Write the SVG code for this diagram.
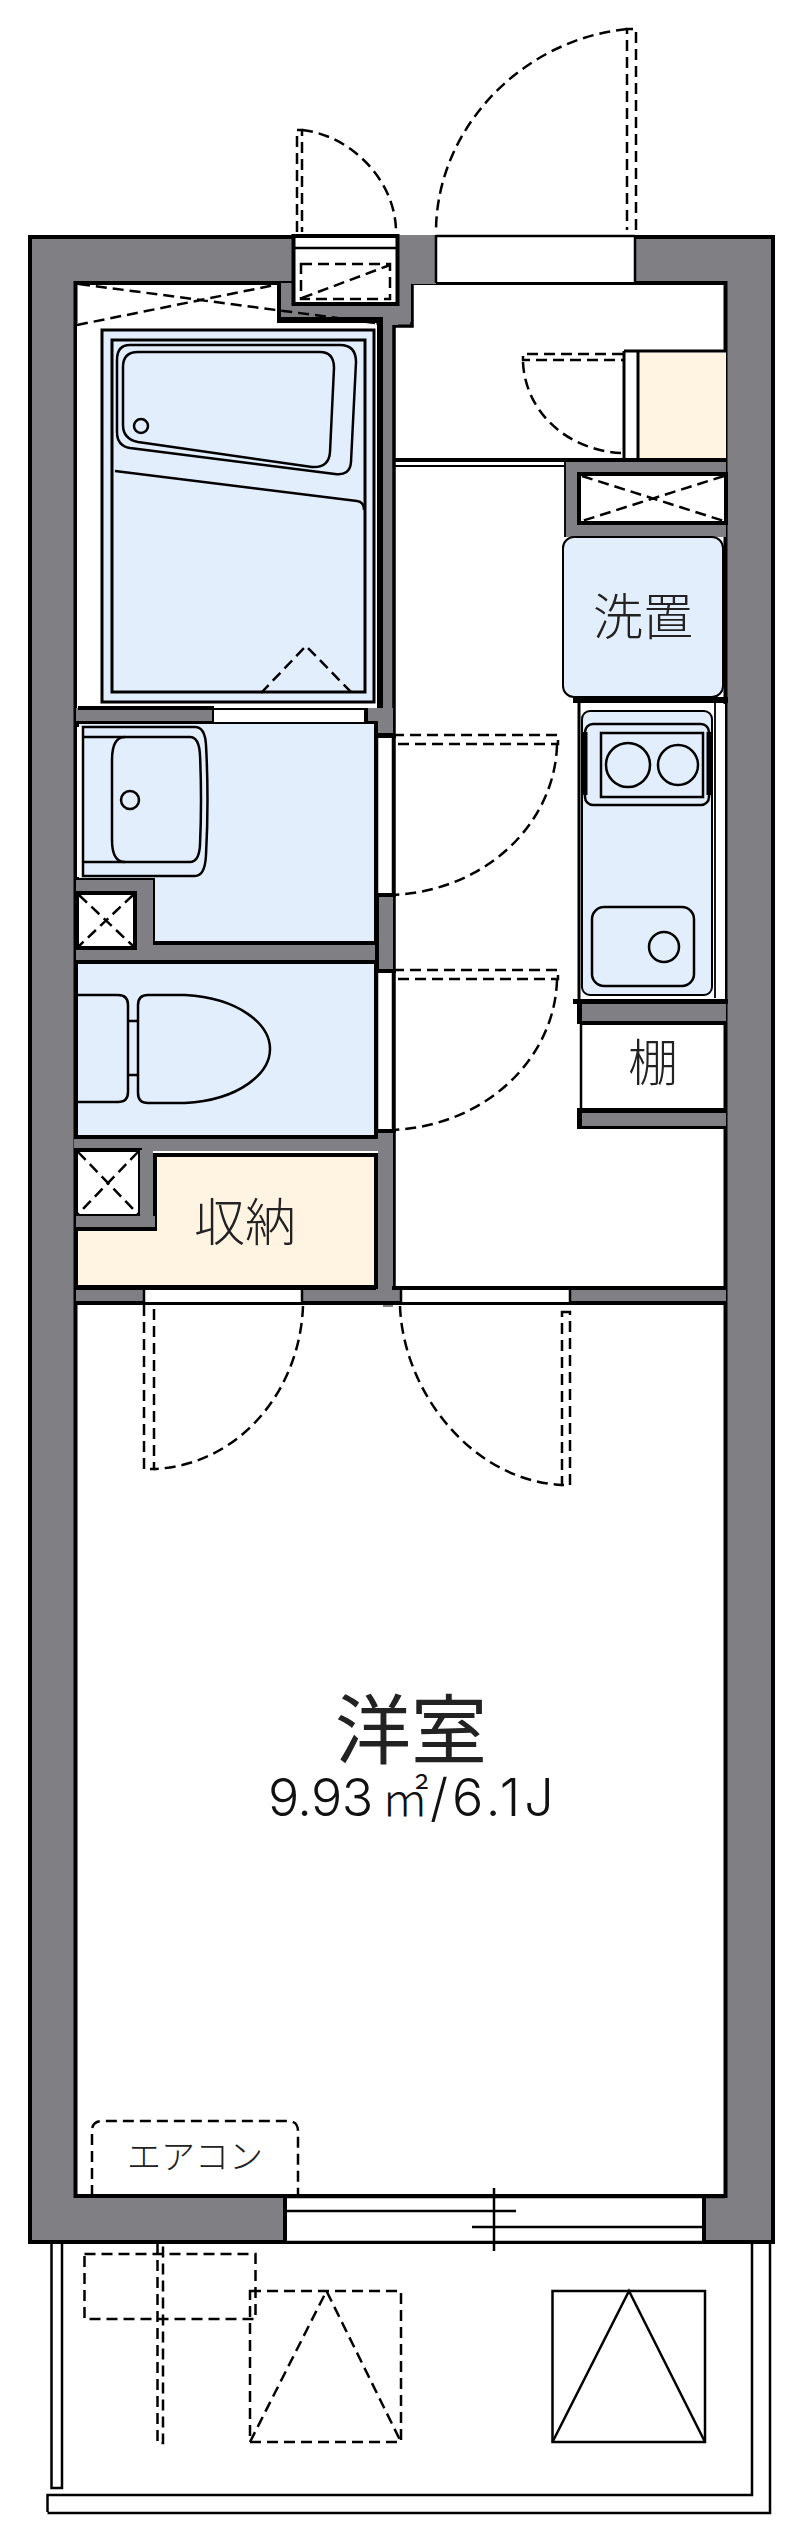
<svg xmlns="http://www.w3.org/2000/svg" width="800" height="2540" viewBox="0 0 800 2540">
<style>
.w{fill:#808084}
.k{fill:#000}
.l{fill:none;stroke:#000;stroke-width:2.5}
.t{fill:none;stroke:#000;stroke-width:1.8}
.d{fill:none;stroke:#000;stroke-width:2.5;stroke-dasharray:11 6}
.b{fill:#e3eefd}
.c{fill:#fff4e1}
.x{font-family:"Noto Sans CJK JP","Liberation Sans",sans-serif;font-weight:300;fill:#222;text-anchor:middle}
</style>
<rect width="800" height="2540" fill="#fff"/>
<g id="walls">
<rect x="30" y="237" width="743" height="2005" class="w" stroke="#000" stroke-width="4"/>
<rect x="75.500" y="283" width="650" height="1913" fill="#fff" stroke="#000" stroke-width="4"/>
<path d="M279 283V321H383V324H413V283Z" class="w"/>
<path d="M279 283V321H382" fill="none" stroke="#000" stroke-width="4"/>
<rect x="383" y="322" width="10" height="985" class="w"/>
<path d="M412 283V326H394V1290" fill="none" stroke="#000" stroke-width="3.500"/>
<rect x="293" y="235" width="105" height="90" class="w"/>
<rect x="398" y="235" width="38" height="49" class="w"/>
<rect x="398" y="284" width="13" height="38" class="w"/>
<rect x="436" y="235" width="199" height="47" fill="#fff"/>
<path d="M436 236H635M436 235V283M635 235V283" fill="none" stroke="#000" stroke-width="2.500"/>
<rect x="293.500" y="236" width="104" height="68" fill="#fff" stroke="#000" stroke-width="4"/>
<path d="M295 248H396" class="l"/>
</g>
<g id="bath">
<rect x="77" y="323" width="299" height="385" fill="#fff"/>
<path d="M279 320H380V708" fill="none" stroke="#000" stroke-width="6"/>
<rect x="102" y="330" width="272" height="372" class="b" stroke="#000" stroke-width="3"/>
<rect x="112" y="340" width="253" height="352" fill="none" stroke="#000" stroke-width="3"/>
<path d="M130 345H340Q356 345 356 362L351 462Q350 476 335 474L130 448Q117 446 117 432V360Q117 345 130 345Z" class="l"/>
<path d="M138 352H320Q334 352 334 368L330 452Q329 468 312 467L138 442Q123 439 123 425V367Q123 352 138 352Z" class="l" stroke-width="3"/>
<circle cx="141" cy="426" r="7" class="l"/>
<path d="M115 471L357 501Q364 502 364 510" class="l" stroke-width="3"/>
<path d="M261 693L306 646L352 693" class="d" stroke-width="2"/>
</g>
<g id="bath-shaft">
<path d="M79 284L375 323M77 325L275 285" class="d"/>
</g>
<g id="wash">
<rect x="76" y="708" width="138" height="19" class="w"/>
<rect x="76" y="721" width="138" height="7" class="k"/>
<path d="M214 708V728M78 708H214" fill="none" stroke="#000" stroke-width="4"/>
<rect x="214" y="709" width="151" height="14" fill="#fff"/>
<path d="M214 709H375M214 723H375" class="t"/>
<rect x="366" y="708" width="27" height="28" class="w"/>
<path d="M366 708V723H376V735H394" fill="none" stroke="#000" stroke-width="4"/>
<rect x="77" y="724" width="299" height="219" class="b"/>
<path d="M77 724V880H153V943H376V724" fill="none" stroke="#000" stroke-width="4"/>
<rect x="76" y="880" width="77" height="82" class="w"/>
<rect x="153" y="945" width="223" height="17" class="w"/>
<rect x="377" y="736" width="16" height="160" fill="#fff"/>
<path d="M377 736V896M393 736V896" class="l"/>
<rect x="376" y="734" width="20" height="4" class="k"/>
<rect x="376" y="893" width="20" height="4" class="k"/>
<rect x="378" y="897" width="15" height="73" class="w"/>
<path d="M377 896V970" fill="none" stroke="#000" stroke-width="4"/>
<rect x="77" y="727" width="6" height="150" fill="#fff"/>
<path d="M83 727H195Q205 727 206 745Q209 800 206 855Q205 876 195 876H83Z" class="l" fill="#e3eefd"/>
<path d="M84 737H190Q199 737 200 755Q202 800 200 845Q199 862 190 862H84" class="l"/>
<path d="M125 737Q112 737 112 760V840Q112 862 125 862" class="l"/>
<circle cx="130" cy="800" r="9" class="l"/>
<rect x="77" y="893" width="58" height="55" fill="#fff" stroke="#000" stroke-width="4"/>
<path d="M79 895L133 946M133 895L79 946" class="d" stroke-width="2" stroke-dasharray="9 5"/>
</g>
<g id="toilet">
<rect x="76" y="962" width="300" height="175" class="b" stroke="#000" stroke-width="4"/>
<rect x="378" y="971" width="15" height="159" fill="#fff"/>
<path d="M377 971V1130M393 971V1130" class="l"/>
<rect x="376" y="969" width="20" height="4" class="k"/>
<rect x="376" y="1129" width="20" height="4" class="k"/>
<rect x="74" y="1139" width="304" height="12" class="w"/>
<rect x="378" y="1133" width="15" height="172" class="w"/>
<path d="M78 995H118Q128 995 128 1005V1092Q128 1102 118 1102H78" class="l"/>
<path d="M148 995H185C240 998 270 1025 270 1049S240 1100 185 1103H148Q138 1103 138 1093V1005Q138 995 148 995Z" class="l"/>
<path d="M128 1021H138M128 1075H138" class="l"/>
</g>
<g id="shaft-2">
<rect x="76" y="1150" width="64" height="66" fill="#fff" stroke="#000" stroke-width="4"/>
<path d="M78 1152L138 1214M138 1152L78 1214" class="d" stroke-width="2" stroke-dasharray="9 5"/>
</g>
<g id="storage">
<path d="M155 1155H376V1287H76V1229H155Z" class="c" stroke="#000" stroke-width="4"/>
<rect x="76" y="1216" width="79" height="11" class="w"/>
<rect x="140" y="1150" width="13" height="77" class="w"/>
<rect x="76" y="1289" width="650" height="13" class="w"/>
<path d="M76 1288H376M392 1288H726M76 1303H726" fill="none" stroke="#000" stroke-width="4"/>
<rect x="145" y="1290" width="157" height="12" fill="#fff"/>
<rect x="401" y="1290" width="169" height="12" fill="#fff"/>
<path d="M144 1288V1303M302 1288V1303M401 1288V1303M570 1288V1303" class="l" stroke-width="3.500"/>
<text class="x" x="245" y="1241" font-size="51">収納</text>
</g>
<g id="closet">
<rect x="624" y="352" width="102" height="110" fill="#fff"/>
<rect x="639" y="353" width="87" height="106" class="c"/>
<path d="M624 351H726M624 351V460M638 351V460" fill="none" stroke="#000" stroke-width="3"/>
<path d="M394 460H726" fill="none" stroke="#000" stroke-width="4"/>
<path d="M394 466H564" class="t"/>
</g>
<g id="shaft-3">
<rect x="564" y="462" width="162" height="75" class="w"/>
<path d="M565 462V537" class="t"/>
<rect x="579" y="474" width="147" height="49" fill="#fff" stroke="#000" stroke-width="4"/>
<path d="M582 476L724 521M724 476L582 521" class="d" stroke-width="2" stroke-dasharray="10 6"/>
</g>
<g id="washer">
<rect x="563" y="537" width="160" height="160" rx="11" class="b" stroke="#000" stroke-width="2"/>
<text class="x" x="643" y="635" font-size="50">洗置</text>
</g>
<g id="kitchen">
<rect x="573" y="697" width="155" height="6" class="k"/>
<rect x="579" y="704" width="146" height="295" fill="#fff"/>
<rect x="577.500" y="703" width="3" height="296" class="k"/>
<rect x="582" y="711" width="130" height="284" rx="8" class="b" stroke="#000" stroke-width="2"/>
<path d="M715 703V998" class="t"/>
<rect x="585" y="724" width="124" height="81" rx="8" class="b" stroke="#000" stroke-width="2.500"/>
<path d="M585 732V795M709 732V795" stroke="#000" stroke-width="5"/>
<rect x="601" y="733" width="102" height="64" fill="none" stroke="#000" stroke-width="2.500"/>
<circle cx="628" cy="765" r="22" class="l"/>
<circle cx="678" cy="765" r="20" class="l"/>
<rect x="592" y="907" width="102" height="79" rx="12" fill="none" stroke="#000" stroke-width="2.500"/>
<circle cx="664" cy="947" r="15" class="l"/>
<rect x="573" y="999" width="155" height="5" class="k"/>
</g>
<g id="shelf">
<rect x="577" y="1004" width="149" height="18" class="w"/>
<rect x="577" y="1004" width="5" height="20" class="k"/>
<rect x="582" y="1021" width="144" height="4" class="k"/>
<rect x="578" y="1108" width="148" height="5" class="k"/>
<rect x="577" y="1108" width="5" height="20" class="k"/>
<rect x="582" y="1113" width="144" height="14" class="w"/>
<rect x="577" y="1126" width="149" height="3" class="k"/>
<path d="M581 1024V1108" class="l"/>
<text class="x" x="653" y="1081" font-size="50">棚</text>
</g>
<g id="window">
<rect x="285" y="2197" width="419" height="45" fill="#fff"/>
<path d="M285 2197H725" class="l"/>
<path d="M285 2242H704M285 2211H516M472 2227H704M494 2188V2251" class="l" stroke-width="3"/>
<path d="M285 2196V2243M704 2196V2243" fill="none" stroke="#000" stroke-width="4"/>
<path d="M704 2196H726" fill="none" stroke="#000" stroke-width="4"/>
</g>
<g id="balcony">
<path d="M51.500 2243V2488H62V2243M47.500 2512V2495H752V2243M770 2243V2513H47.500" class="l"/>
<rect x="84.500" y="2254" width="171" height="65" class="d" stroke-width="3"/>
<path d="M157.500 2243V2443H163V2243" class="d" stroke-width="2"/>
<rect x="250" y="2291" width="151" height="151" class="d"/>
<path d="M250 2442L326.500 2291L401 2442" class="d"/>
<rect x="552.500" y="2291" width="152.500" height="151" class="l" stroke-width="3"/>
<path d="M552.500 2442L629 2291L705 2442" class="l"/>
</g>
<g id="doors">
<path d="M297 232V130H302V232" class="d"/>
<path d="M302 130C350 135 396 180 396 232" class="d"/>
<path d="M636 230V29H627V230" class="d"/>
<path d="M627 29C520 40 436 130 436 232" class="d"/>
<path d="M623 354H523V360H623" class="d"/>
<path d="M523 362C525 410 565 450 621 453" class="d" stroke-dasharray="13 6"/>
<path d="M393 735H558V744H393" class="d"/>
<path d="M557 745C555 820 490 890 393 895" class="d" stroke-dasharray="14 6"/>
<path d="M393 970H558V979H393" class="d"/>
<path d="M557 980C555 1055 490 1125 393 1130" class="d" stroke-dasharray="14 6"/>
<path d="M144 1305V1469H154V1305" class="d"/>
<path d="M303 1306C300 1390 240 1465 154 1469" class="d" stroke-dasharray="14 6"/>
<path d="M562 1312H570V1485H562Z" class="d"/>
<path d="M400 1306C403 1390 470 1480 562 1485" class="d" stroke-dasharray="14 6"/>
<path d="M301 264H390V299H301Z" class="d" stroke-width="3"/>
<path d="M302 298L390 265" class="d" stroke-width="3"/>
<path d="M92 2196V2131Q92 2121 102 2121H288Q298 2121 298 2131V2196" class="d"/>
</g>
<g id="labels">
<text class="x" x="195" y="2169" font-size="34">エアコン</text>
<text class="x" x="411" y="1758" font-size="76" style="font-weight:400">洋室</text>
<text y="1816" font-size="52" font-family="Inter,'Liberation Sans',sans-serif" font-weight="300" fill="#111"><tspan x="268" letter-spacing="-0.600">9.93</tspan><tspan x="381" font-size="48" font-family="'Noto Sans CJK JP',sans-serif">㎡</tspan><tspan x="430" letter-spacing="4">/6.1J</tspan></text>
</g>
</svg>
